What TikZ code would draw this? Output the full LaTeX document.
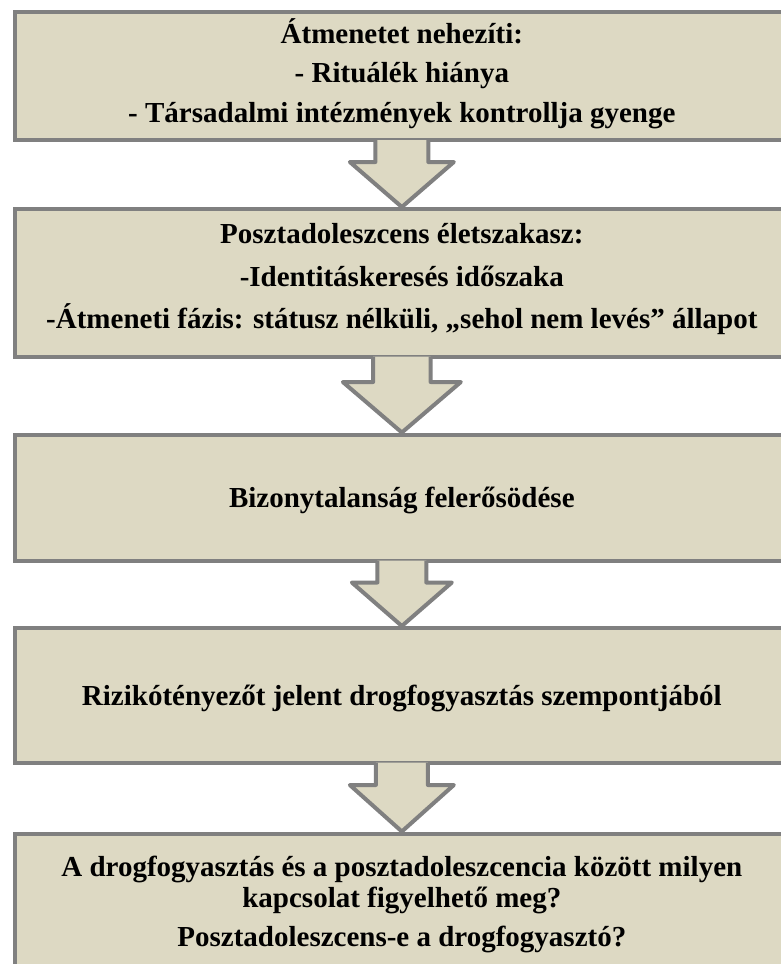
\documentclass[tikz,border=0pt]{standalone}
\usepackage{fontspec}
\setmainfont{Liberation Serif}
\usetikzlibrary{calc}
\definecolor{boxfill}{HTML}{DDD9C3}
\definecolor{boxline}{HTML}{808080}
\newcommand{\blockarrow}[5]{%
  \path (#1.south) coordinate (atop) (#2.north) coordinate (atip);
  \filldraw[arrshape] ($(atop)+(-#3,-2)$) -- ($(atop)+(-#3,#5)$) -- ($(atop)+(-#4,#5)$) -- (atip)
     -- ($(atop)+(#4,#5)$) -- ($(atop)+(#3,#5)$) -- ($(atop)+(#3,-2)$);
}
\begin{document}
\begin{tikzpicture}[x=1pt,y=-1pt,
  boxshape/.style={draw=boxline, line width=4pt, fill=boxfill, rectangle, inner sep=0pt, minimum width=774.3pt},
  arrshape/.style={draw=boxline, fill=boxfill, line width=4pt, line join=round},
  txt/.style={font=\bfseries\fontsize{29}{33}\selectfont, anchor=base, inner sep=0pt}]
\useasboundingbox (0,0) rectangle (781,964);
\clip (0,0) rectangle (781,964);
\fill[white] (0,0) rectangle (781,964);

\node[boxshape, minimum height=128pt] (b1) at (401.85,76) {};
\node[boxshape, minimum height=147.5pt] (b2) at (401.85,282.75) {};
\node[boxshape, minimum height=126pt] (b3) at (401.85,497.5) {};
\node[boxshape, minimum height=134.5pt] (b4) at (401.85,695.25) {};
\node[boxshape, minimum height=166.5pt] (b5) at (401.85,916.75) {};

\blockarrow{b1}{b2}{26.4}{52}{20}
\blockarrow{b2}{b3}{28.7}{59}{23.5}
\blockarrow{b3}{b4}{24.4}{50}{20}
\blockarrow{b4}{b5}{26}{52}{20.5}

\node[txt] (t11) at (401.85,43) {Átmenetet nehezíti:};
\node[txt] (t12) at (401.85,82) {- Rituálék hiánya};
\node[txt] (t13) at (401.85,122) {- Társadalmi intézmények kontrollja gyenge};

\node[txt] (t21) at (401.85,243) {Posztadoleszcens életszakasz:};
\node[txt] (t22) at (401.85,286) {-Identitáskeresés időszaka};
\node[txt] (t23) at (401.85,328) {-Átmeneti fázis: státusz nélküli, „sehol nem levés” állapot};

\node[txt] (t31) at (401.85,507) {Bizonytalanság felerősödése};

\node[txt] (t41) at (401.85,705) {Rizikótényezőt jelent drogfogyasztás szempontjából};

\node[txt] (t51) at (401.85,876) {A drogfogyasztás és a posztadoleszcencia között milyen};
\node[txt] (t52) at (401.85,907) {kapcsolat figyelhető meg?};
\node[txt] (t53) at (401.85,946) {Posztadoleszcens-e a drogfogyasztó?};
\end{tikzpicture}
\end{document}
